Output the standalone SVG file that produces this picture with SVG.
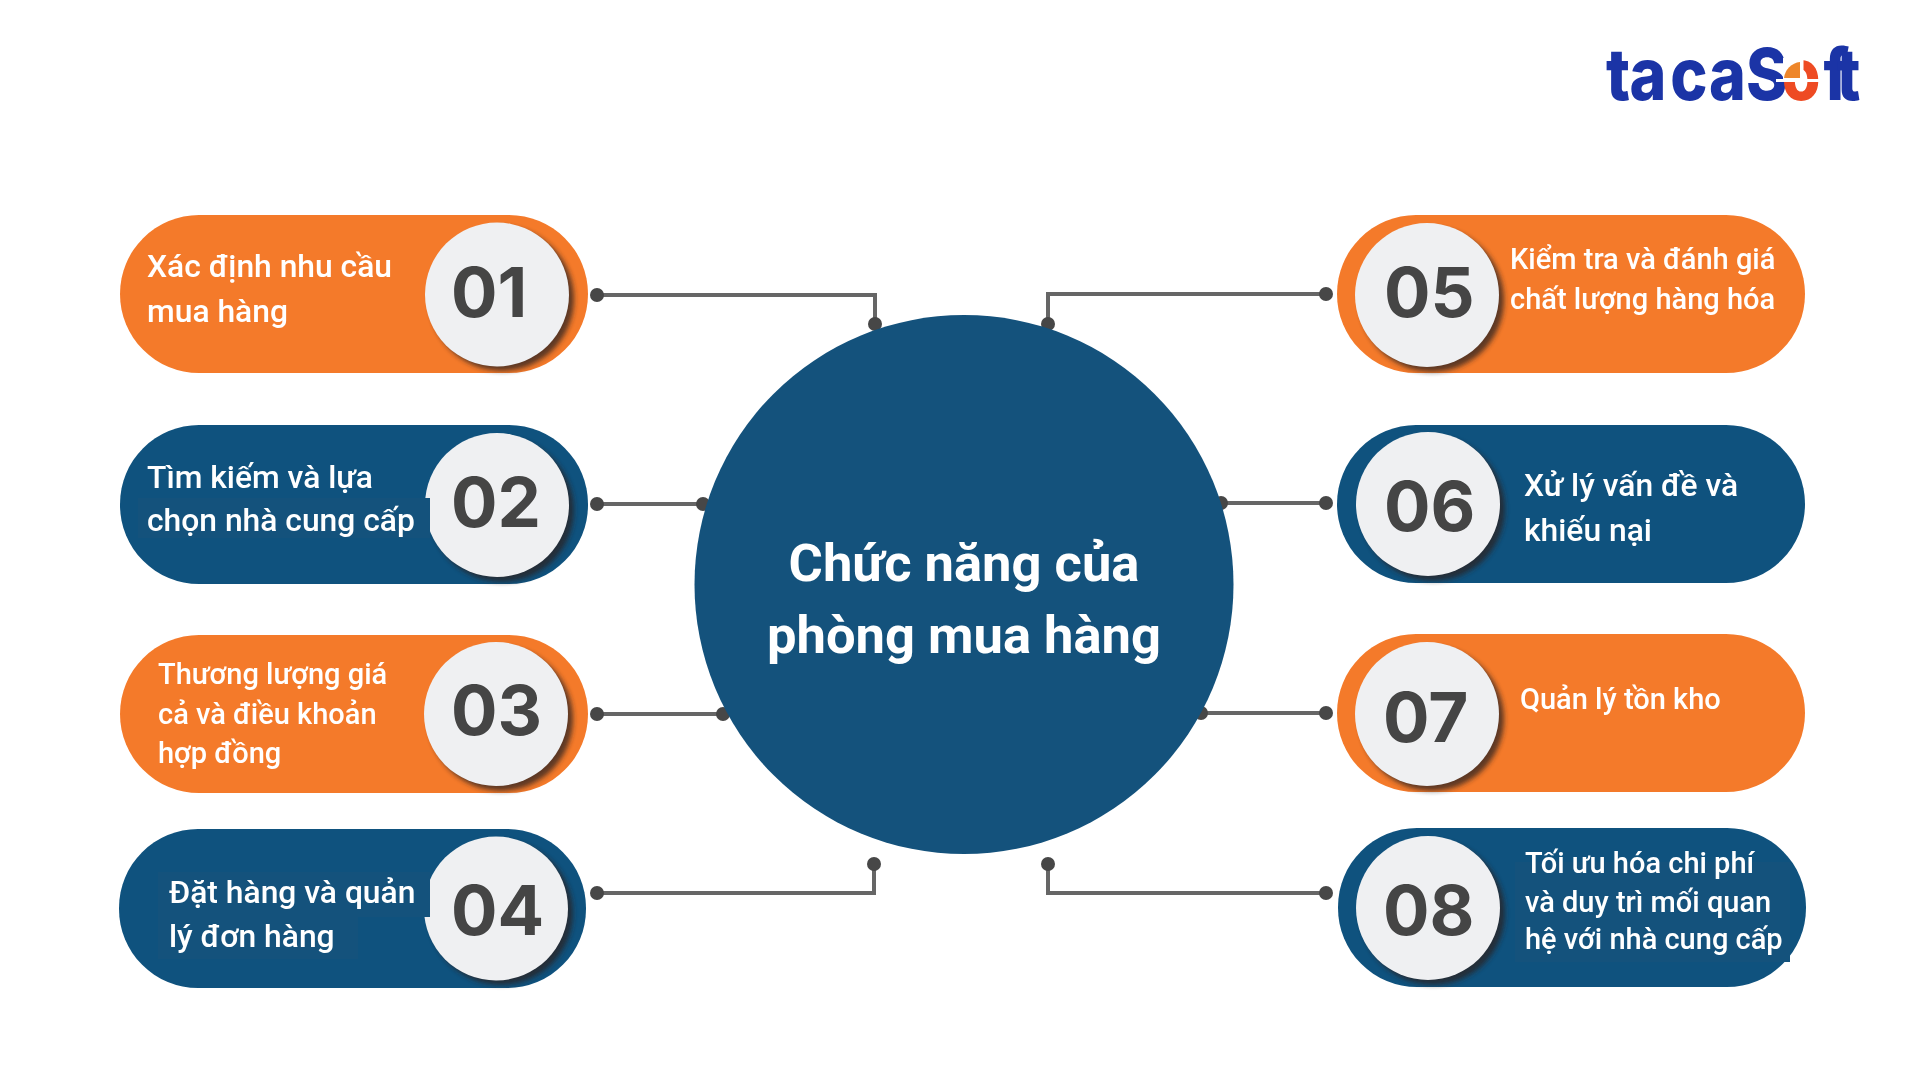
<svg xmlns="http://www.w3.org/2000/svg" width="1920" height="1080" viewBox="0 0 1920 1080">
<defs>
<filter id="sh" x="-20%" y="-20%" width="140%" height="140%"><feGaussianBlur stdDeviation="2.5"/></filter>
<filter id="soft" x="-5%" y="-10%" width="110%" height="120%"><feGaussianBlur stdDeviation="0.6"/></filter>
</defs>
<style>
.o{fill:#F47A2A}.b{fill:#0F527E}
.disc{fill:#EFF0F2}
.shadow{fill:#2A2320;opacity:.75;filter:url(#sh)}
.num{font-family:"Inter","Open Sans",sans-serif;font-weight:700;font-size:69px;fill:#444444;filter:url(#soft)}
.t{font-family:"Roboto","Liberation Sans",sans-serif;font-weight:500;fill:#FFFFFF;filter:url(#soft)}
.wire{fill:none;stroke:#666666;stroke-width:4}
.dot{fill:#474747}
.patch{fill:#14527C}
.title{font-family:"Roboto","Liberation Sans",sans-serif;font-weight:700;font-size:52.5px;fill:#FFFFFF;text-anchor:middle;filter:url(#soft)}
</style>
<rect width="1920" height="1080" fill="#FFFFFF"/>
<g id="connectors">
<path class="wire" d="M597 295H875V323"/><circle class="dot" cx="597" cy="295" r="7"/><circle class="dot" cx="875" cy="324" r="7"/>
<path class="wire" d="M597 504H703"/><circle class="dot" cx="597" cy="504" r="7"/><circle class="dot" cx="703" cy="504" r="7"/>
<path class="wire" d="M597 714H723"/><circle class="dot" cx="597" cy="714" r="7"/><circle class="dot" cx="723" cy="714" r="7"/>
<path class="wire" d="M597 893H874V864"/><circle class="dot" cx="597" cy="893" r="7"/><circle class="dot" cx="874" cy="864" r="7"/>
<path class="wire" d="M1326 294H1048V323"/><circle class="dot" cx="1326" cy="294" r="7"/><circle class="dot" cx="1048" cy="324" r="7"/>
<path class="wire" d="M1326 503H1221"/><circle class="dot" cx="1326" cy="503" r="7"/><circle class="dot" cx="1221" cy="503" r="7"/>
<path class="wire" d="M1326 713H1201"/><circle class="dot" cx="1326" cy="713" r="7"/><circle class="dot" cx="1201" cy="713" r="7"/>
<path class="wire" d="M1326 893H1048V864"/><circle class="dot" cx="1326" cy="893" r="7"/><circle class="dot" cx="1048" cy="864" r="7"/>
</g>
<g id="center">
<circle cx="964" cy="584.5" r="269.5" fill="#14527C"/>
<text class="title" x="964" y="581">Chức năng của</text>
<text class="title" x="964" y="653">phòng mua hàng</text>
</g>
<g id="node01">
<rect class="o" x="120" y="215" width="468" height="158" rx="79"/>
<circle class="shadow" cx="502" cy="299" r="72"/><circle class="disc" cx="497" cy="294.5" r="72"/>
<text class="num" x="451" y="317">01</text>
<text class="t" font-size="31.8"><tspan x="147" y="277">Xác định nhu cầu</tspan><tspan x="147" y="322">mua hàng</tspan></text>
</g>
<g id="node02">
<rect class="b" x="120" y="425" width="468" height="159" rx="79"/>
<circle class="shadow" cx="502" cy="510" r="72"/><circle class="disc" cx="497" cy="505" r="72"/>
<rect class="patch" x="138" y="498" width="292" height="40"/>
<text class="num" x="451" y="527">02</text>
<text class="t" font-size="31.8"><tspan x="147" y="488">Tìm kiếm và lựa</tspan><tspan x="147" y="531">chọn nhà cung cấp</tspan></text>
</g>
<g id="node03">
<rect class="o" x="120" y="635" width="468" height="158" rx="79"/>
<circle class="shadow" cx="501" cy="719" r="72"/><circle class="disc" cx="496" cy="714" r="72"/>
<text class="num" x="451" y="735">03</text>
<text class="t" font-size="29"><tspan x="158" y="684">Thương lượng giá</tspan><tspan x="158" y="724">cả và điều khoản</tspan><tspan x="158" y="763">hợp đồng</tspan></text>
</g>
<g id="node04">
<rect class="b" x="119" y="829" width="467" height="159" rx="79"/>
<circle class="shadow" cx="501" cy="913" r="72"/><circle class="disc" cx="496" cy="908.5" r="72"/>
<rect class="patch" x="158" y="872" width="272" height="45"/>
<rect class="patch" x="158" y="917" width="200" height="42"/>
<text class="num" x="451" y="935">04</text>
<text class="t" font-size="31.8"><tspan x="169" y="903">Đặt hàng và quản</tspan><tspan x="169" y="947">lý đơn hàng</tspan></text>
</g>
<g id="node05">
<rect class="o" x="1337" y="215" width="468" height="158" rx="79"/>
<circle class="shadow" cx="1432" cy="300" r="72"/><circle class="disc" cx="1427" cy="295" r="72"/>
<text class="num" x="1384" y="317">05</text>
<text class="t" font-size="29"><tspan x="1510" y="269">Kiểm tra và đánh giá</tspan><tspan x="1510" y="309">chất lượng hàng hóa</tspan></text>
</g>
<g id="node06">
<rect class="b" x="1337" y="425" width="468" height="158" rx="79"/>
<circle class="shadow" cx="1433" cy="509" r="72"/><circle class="disc" cx="1428" cy="504" r="72"/>
<text class="num" x="1384" y="531">06</text>
<text class="t" font-size="31.8"><tspan x="1524" y="496">Xử lý vấn đề và</tspan><tspan x="1524" y="541">khiếu nại</tspan></text>
</g>
<g id="node07">
<rect class="o" x="1337" y="634" width="468" height="158" rx="79"/>
<circle class="shadow" cx="1432" cy="719" r="72"/><circle class="disc" cx="1427" cy="714" r="72"/>
<text class="num" x="1383" y="742">07</text>
<text class="t" font-size="29"><tspan x="1520" y="709">Quản lý tồn kho</tspan></text>
</g>
<g id="node08">
<rect class="b" x="1338" y="828" width="468" height="159" rx="79"/>
<circle class="shadow" cx="1433" cy="913" r="72"/><circle class="disc" cx="1428" cy="908" r="72"/>
<rect class="patch" x="1515" y="862" width="275" height="100"/>
<text class="num" x="1383" y="935">08</text>
<text class="t" font-size="29"><tspan x="1525" y="873">Tối ưu hóa chi phí</tspan><tspan x="1525" y="912">và duy trì mối quan</tspan><tspan x="1525" y="949">hệ với nhà cung cấp</tspan></text>
</g>
<g id="logo">
<text transform="translate(1606 99.5) scale(.87 1)" font-family="Inter, sans-serif" font-weight="800" font-size="72" fill="#1B34A6" x="0 27 74 118.4 161 202 250 265">tacaS<tspan fill="#EE4B23">o</tspan>ft</text>
<path d="M1783 58H1802V80H1783Z" fill="#FFFFFF"/>
<path d="M1800 62A18 18 0 0 0 1784 78H1800Z" fill="#EE862A"/>
<path d="M1776 80.5H1826M1802 55V80" stroke="#FFFFFF" stroke-width="3" fill="none"/>
</g>
</svg>
